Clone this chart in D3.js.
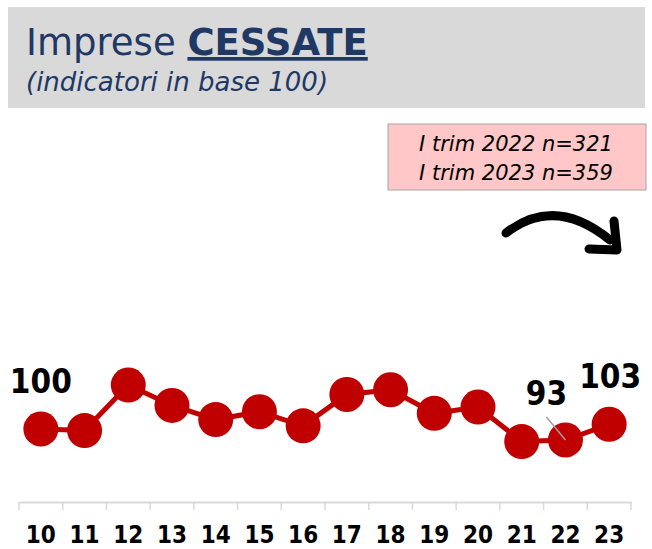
<!DOCTYPE html>
<html>
<head>
<meta charset="utf-8">
<script src="https://cdn.jsdelivr.net/npm/d3@7"></script>
<style>
  body { margin: 0; background: #fff; }
  svg { display: block; }
</style>
</head>
<body>
<div id="chart"></div>
<script>
// imprese cessate, indicatori in base 100 (I trim 2010 = 100)
let years = ["10","11","12","13","14","15","16","17","18","19","20","21","22","23"]
let values = [100, 99, 128, 115, 106, 111, 102, 122, 125, 110, 114, 92, 93, 103]
let labelled = {"10": "100", "22": "93", "23": "103"}
let noteLines = ["I trim 2022 n=321", "I trim 2023 n=359"]

let width = 652, height = 549
let red = "#C00000", navy = "#203864"

let svg = d3.select("#chart")
    .append("svg")
    .attr("width", width)
    .attr("height", height)

// title box
svg.append("rect")
    .attr("x", 8).attr("y", 7)
    .attr("width", 637).attr("height", 101)
    .attr("fill", "#d9d9d9")

let title = svg.append("text")
    .attr("x", 26).attr("y", 55)
    .attr("fill", navy)
    .style("font-family", "'DejaVu Sans'")
    .style("font-size", "37px")
title.append("tspan").text("Imprese ")
title.append("tspan")
    .text("CESSATE")
    .style("font-weight", "bold")
    .style("text-decoration", "underline")

svg.append("text")
    .attr("x", 26).attr("y", 91)
    .attr("fill", navy)
    .style("font-family", "'DejaVu Sans'")
    .style("font-style", "italic")
    .style("font-size", "26px")
    .text("(indicatori in base 100)")

// note box
svg.append("rect")
    .attr("x", 388).attr("y", 124)
    .attr("width", 258).attr("height", 66)
    .attr("fill", "#ffc7c7")
    .attr("stroke", "#a6a6a6")
    .attr("stroke-width", 1)

svg.selectAll(".note")
    .data(noteLines)
    .enter()
        .append("text")
        .attr("class", "note")
        .attr("x", 516)
        .attr("y", (d, i) => 151 + i * 29)
        .attr("text-anchor", "middle")
        .attr("fill", "#000")
        .style("font-family", "'DejaVu Sans'")
        .style("font-style", "italic")
        .style("font-size", "21px")
        .text(d => d)

// curved arrow
svg.append("path")
    .attr("d", "M506,233 Q555,195 610,240")
    .attr("fill", "none")
    .attr("stroke", "#000")
    .attr("stroke-width", 9)
    .attr("stroke-linecap", "round")
svg.append("path")
    .attr("d", "M614,221 L617,250 L589,249")
    .attr("fill", "none")
    .attr("stroke", "#000")
    .attr("stroke-width", 9)
    .attr("stroke-linecap", "round")
    .attr("stroke-linejoin", "round")

// scales
let x = d3.scaleBand()
    .domain(years)
    .range([19, 631])

let y = d3.scaleLinear()
    .domain([80, 130])
    .range([460.4, 381.9])

// axis
let axis = svg.append("g")
    .attr("transform", "translate(0,502)")
    .call(d3.axisBottom(x).tickSize(0).tickFormat(""))
axis.select(".domain").attr("stroke", "#d9d9d9").attr("stroke-width", 2)

svg.selectAll(".tick-sep")
    .data(d3.range(years.length + 1))
    .enter()
        .append("line")
        .attr("class", "tick-sep")
        .attr("x1", i => 19 + i * x.step())
        .attr("x2", i => 19 + i * x.step())
        .attr("y1", 502).attr("y2", 510)
        .attr("stroke", "#d9d9d9")
        .attr("stroke-width", 1.5)

svg.selectAll(".year")
    .data(years)
    .enter()
        .append("text")
        .attr("class", "year")
        .attr("x", d => x(d) + x.bandwidth() / 2)
        .attr("y", 543)
        .attr("text-anchor", "middle")
        .style("font-family", "'DejaVu Sans Condensed'")
        .style("font-weight", "bold")
        .style("font-size", "24px")
        .text(d => d)

// line + markers
let line = d3.line()
    .x((d, i) => x(years[i]) + x.bandwidth() / 2)
    .y(d => y(d))

svg.append("path")
    .datum(values)
    .attr("d", line)
    .attr("fill", "none")
    .attr("stroke", red)
    .attr("stroke-width", 5)

svg.selectAll(".dot")
    .data(values)
    .enter()
        .append("circle")
        .attr("class", "dot")
        .attr("cx", (d, i) => x(years[i]) + x.bandwidth() / 2)
        .attr("cy", d => y(d))
        .attr("r", 17.5)
        .attr("fill", red)

// data labels
let cx = yr => x(yr) + x.bandwidth() / 2
let lab = [
    {yr: "10", dx: 0, yy: 393},
    {yr: "22", dx: -19, yy: 405},
    {yr: "23", dx: 1, yy: 388}
]

// leader line for 93
svg.append("line")
    .attr("x1", cx("22") - 19).attr("y1", 417)
    .attr("x2", cx("22")).attr("y2", y(values[12]))
    .attr("stroke", "#a0a0a0")
    .attr("stroke-width", 1.5)

svg.selectAll(".dlabel")
    .data(lab)
    .enter()
        .append("text")
        .attr("class", "dlabel")
        .attr("x", d => cx(d.yr) + d.dx)
        .attr("y", d => d.yy)
        .attr("text-anchor", "middle")
        .style("font-family", "'DejaVu Sans Condensed'")
        .style("font-weight", "bold")
        .style("font-size", "33px")
        .text(d => labelled[d.yr])
</script>
</body>
</html>
